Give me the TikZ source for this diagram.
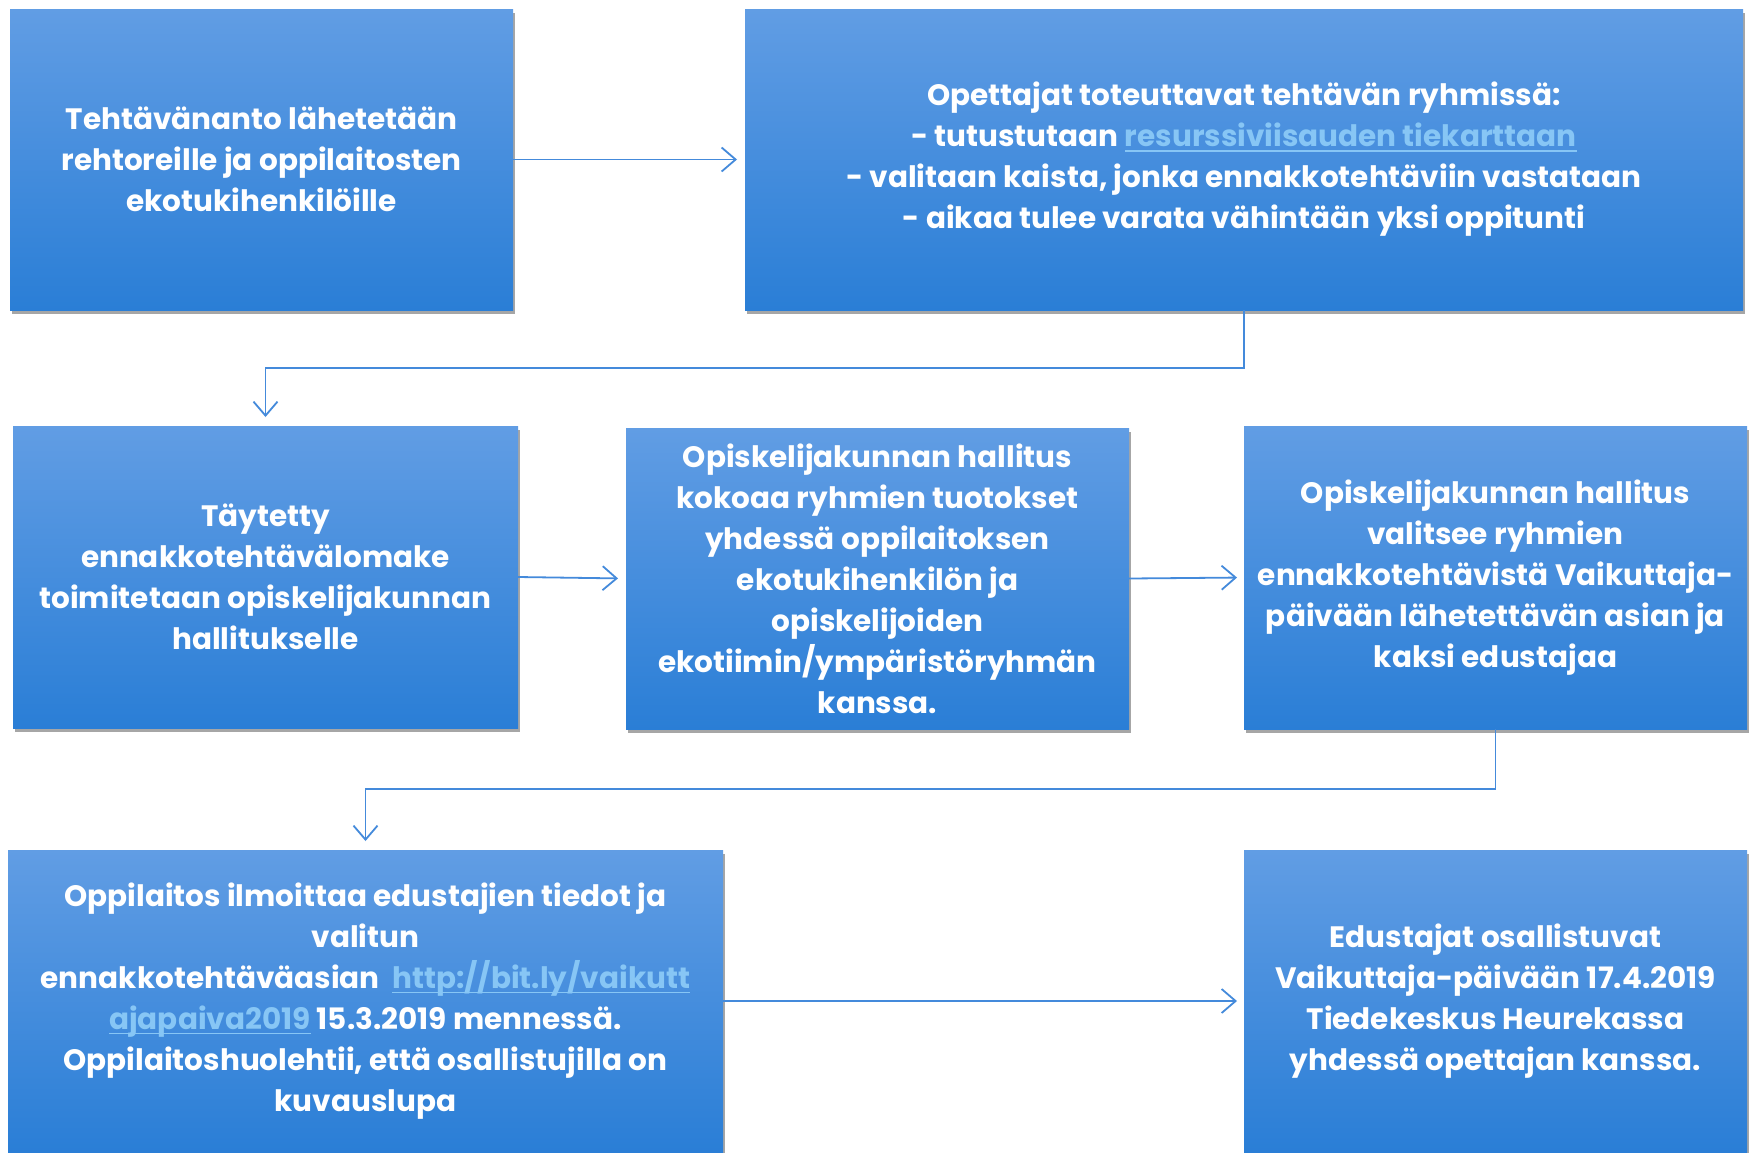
\documentclass[tikz,border=0pt]{standalone}
\usepackage{fontspec}
\setmainfont{Poppins}
\usetikzlibrary{arrows.meta,shadows}
\definecolor{boxtop}{RGB}{97,157,228}
\definecolor{boxbot}{RGB}{42,126,214}
\definecolor{linkc}{RGB}{135,198,245}
\definecolor{linec}{RGB}{68,138,219}
\newcommand{\weblink}[1]{{\leavevmode\color{linkc}\setbox0\hbox{#1}\rlap{\rule[-5pt]{\wd0}{1.6pt}}\box0}}
\tikzset{
  flowbox/.style={rectangle, inner sep=0pt, outer sep=0pt,
    top color=boxtop, bottom color=boxbot, draw=none,
    drop shadow={shadow xshift=2pt, shadow yshift=-4pt, opacity=0.35, fill=black},
    text=white, align=center,
    font=\fontsize{29.5}{41}\selectfont\bfseries},
  flowline/.style={draw=linec, line width=1.8pt,
    -{Straight Barb[length=14pt,width=24pt,line width=1.8pt]}}
}
\begin{document}
\begin{tikzpicture}[x=1pt,y=-1pt]
\useasboundingbox[fill=white] (0,0) rectangle (1753,1152);
\node[flowbox, minimum width=503pt, minimum height=301pt] (b1) at (261.5,159.5)
  {Tehtävänanto lähetetään\\rehtoreille ja oppilaitosten\\ekotukihenkilöille};
\node[flowbox, minimum width=998pt, minimum height=301pt] (b2) at (1244,159.5)
  {Opettajat toteuttavat tehtävän ryhmissä:\\- tutustutaan \weblink{resurssiviisauden tiekarttaan}\\- valitaan kaista, jonka ennakkotehtäviin vastataan\\- aikaa tulee varata vähintään yksi oppitunti};
\node[flowbox, minimum width=505pt, minimum height=302pt] (b3) at (265.5,577)
  {Täytetty\\ennakkotehtävälomake\\toimitetaan opiskelijakunnan\\hallitukselle};
\node[flowbox, minimum width=503pt, minimum height=301pt] (b4) at (877.5,578.5)
  {Opiskelijakunnan hallitus\\kokoaa ryhmien tuotokset\\yhdessä oppilaitoksen\\ekotukihenkilön ja\\opiskelijoiden\\ekotiimin/ympäristöryhmän\\kanssa.};
\node[flowbox, minimum width=503pt, minimum height=303pt] (b5) at (1495.5,577.5)
  {Opiskelijakunnan hallitus\\valitsee ryhmien\\ennakkotehtävistä Vaikuttaja-\\päivään lähetettävän asian ja\\kaksi edustajaa};
\node[flowbox, minimum width=715pt, minimum height=302pt] (b6) at (365.5,1001)
  {Oppilaitos ilmoittaa edustajien tiedot ja\\valitun\\ennakkotehtäväasian\ \ \weblink{http://bit.ly/vaikutt}\\\weblink{ajapaiva2019} 15.3.2019 mennessä.\\Oppilaitoshuolehtii, että osallistujilla on\\kuvauslupa};
\node[flowbox, minimum width=503pt, minimum height=302pt] (b7) at (1495.5,1001)
  {Edustajat osallistuvat\\Vaikuttaja-päivään 17.4.2019\\Tiedekeskus Heurekassa\\yhdessä opettajan kanssa.};
\draw[flowline, shorten >=8pt] (b1.east) -- (b2.west);
\draw[flowline, shorten >=9pt] (b2.south) -- ++(0,58) -| (b3.north);
\draw[flowline, shorten >=8pt] (b3.east) -- (b4.west);
\draw[flowline, shorten >=7pt] (b4.east) -- (b5.west);
\draw[flowline, shorten >=9pt] (b5.south) -- ++(0,60) -| (b6.north);
\draw[flowline, shorten >=7pt] (b6.east) -- (b7.west);
\end{tikzpicture}
\end{document}
